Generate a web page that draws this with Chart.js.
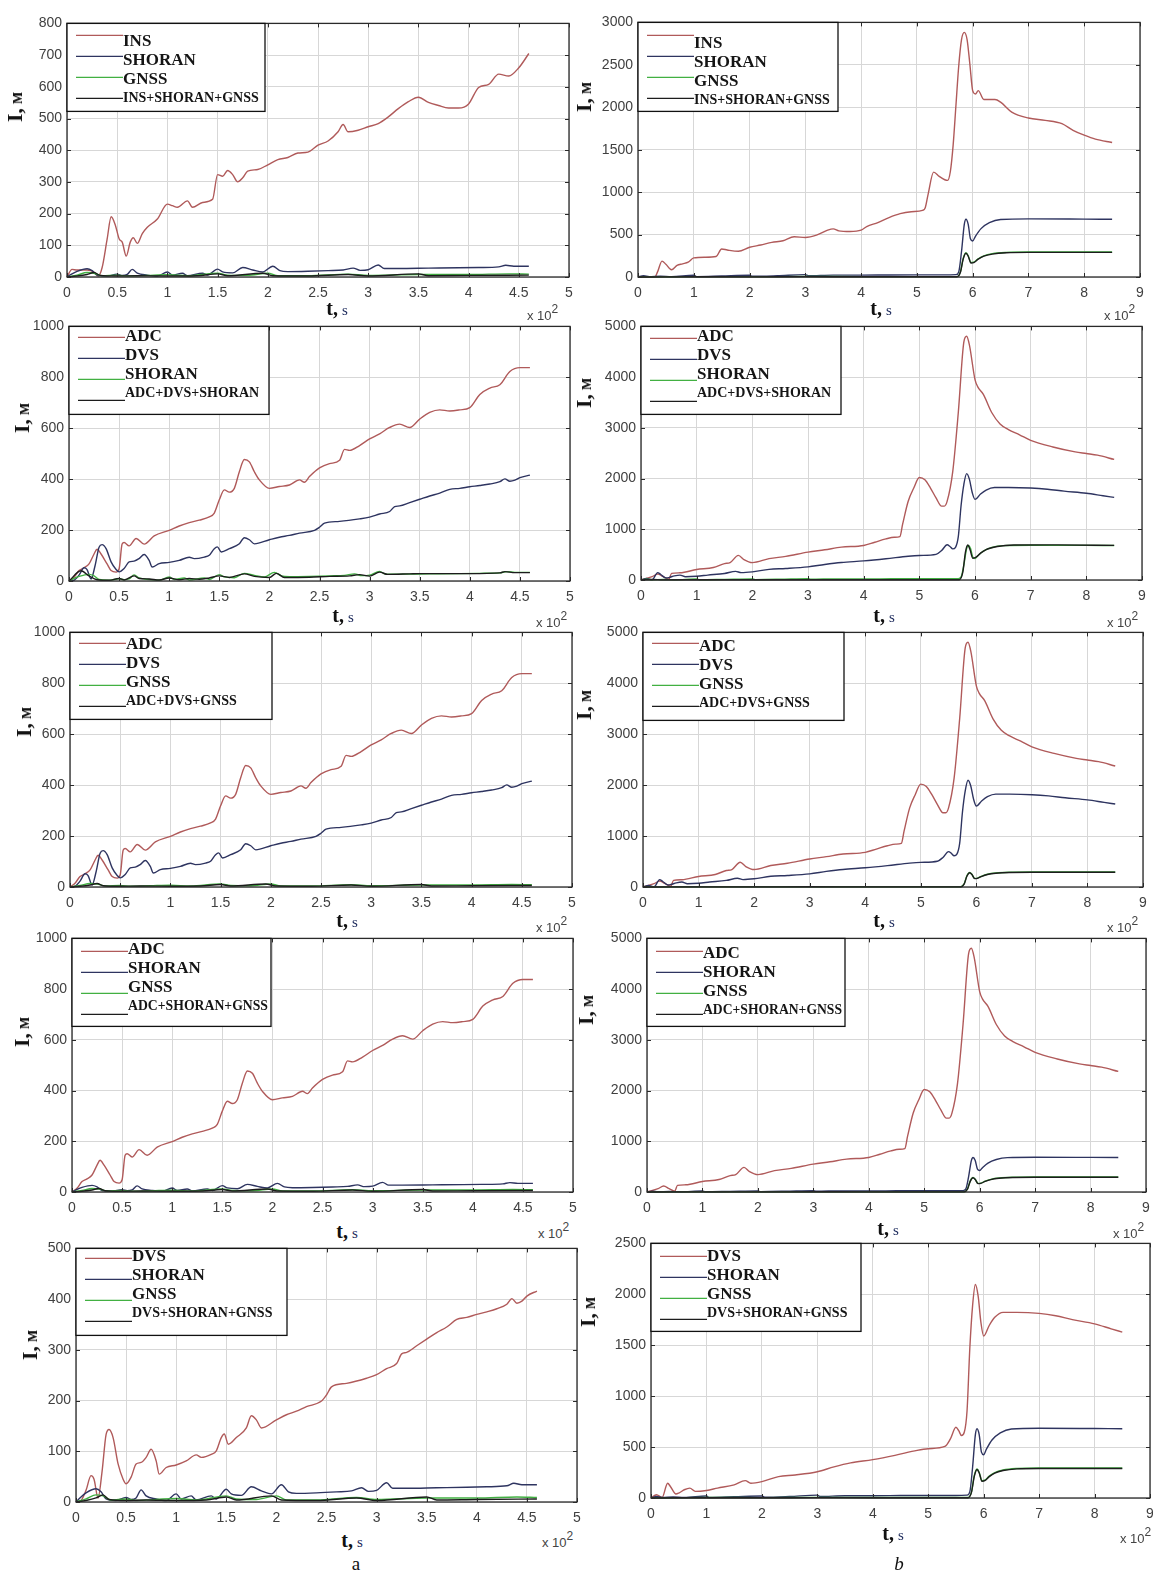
<!DOCTYPE html>
<html>
<head>
<meta charset="utf-8">
<title>Position error I(t) of single and integrated navigation systems</title>
<script src="https://cdn.jsdelivr.net/npm/chart.js@4.4.1/dist/chart.umd.min.js"></script>
<style>
  html, body { margin: 0; padding: 0; background: #fff; overflow: hidden; }
  #fig { position: relative; width: 1153px; height: 1573px; overflow: hidden; background: #fff; }
  #fig canvas { position: absolute; }
  .cap { position: absolute; white-space: nowrap; transform: translate(-50%, -50%); color: #111;
         font-family: "Liberation Serif", "Times New Roman", serif; line-height: 1; }
  .xl b { font-size: 20px; }
  .xl span { font-size: 15px; color: #1d2a5c; }
  .yl { transform: translate(-50%, -50%) rotate(-90deg); font-weight: bold; }
  .yl .big { font-size: 22px; }
  .yl .sm { font-size: 18px; }
  .mult { position: absolute; white-space: nowrap; transform: translateY(-50%);
          font-family: "Liberation Sans", Arial, sans-serif; font-size: 13px; color: #444; }
  .mult sup { font-size: 12px; vertical-align: 7px; line-height: 0; }
</style>
</head>
<body>
<div id="fig"></div>
<script>
// ---- Column a: time in units of 10^2 s, error I in metres ----
const insA = [[0,0],[0.05,24],[0.1,22],[0.2,22],[0.27,15],[0.31,3],[0.35,30],[0.4,120],[0.44,190],[0.48,165],[0.52,120],[0.55,110],[0.59,66],[0.63,110],[0.66,124],[0.7,106],[0.75,137],[0.8,157],[0.9,183],[1.0,230],[1.05,225],[1.1,220],[1.2,240],[1.25,220],[1.35,235],[1.45,245],[1.5,323],[1.55,318],[1.6,336],[1.65,323],[1.7,300],[1.75,313],[1.8,334],[1.9,339],[2.0,354],[2.1,370],[2.2,377],[2.3,391],[2.4,394],[2.5,416],[2.6,429],[2.7,458],[2.75,481],[2.8,458],[2.9,463],[3.0,474],[3.1,484],[3.2,505],[3.3,531],[3.4,553],[3.5,567],[3.6,551],[3.7,541],[3.8,533],[3.9,533],[4.0,546],[4.1,598],[4.2,608],[4.3,640],[4.4,634],[4.5,660],[4.6,705]];

const adcA = [[0,0],[0.05,15],[0.1,41],[0.15,52],[0.2,67],[0.25,106],[0.28,125],[0.32,106],[0.38,67],[0.42,41],[0.47,35],[0.5,48],[0.53,145],[0.55,151],[0.6,138],[0.67,167],[0.75,145],[0.85,177],[1.0,199],[1.1,216],[1.2,229],[1.3,239],[1.4,252],[1.45,267],[1.5,319],[1.55,358],[1.6,349],[1.65,364],[1.7,429],[1.75,477],[1.8,468],[1.85,429],[1.9,397],[2.0,364],[2.1,371],[2.2,377],[2.3,397],[2.35,388],[2.4,410],[2.5,444],[2.6,461],[2.7,474],[2.75,517],[2.8,513],[2.9,532],[3.0,558],[3.1,578],[3.2,603],[3.3,616],[3.4,603],[3.5,636],[3.6,662],[3.7,672],[3.8,668],[3.9,672],[4.0,681],[4.1,733],[4.2,758],[4.3,771],[4.4,823],[4.5,838],[4.6,838]];

const dvsA = [[0,0],[0.05,3],[0.1,23],[0.15,52],[0.18,45],[0.22,8],[0.26,60],[0.3,133],[0.33,143],[0.37,127],[0.42,75],[0.47,45],[0.5,36],[0.55,49],[0.6,75],[0.65,78],[0.7,88],[0.75,104],[0.8,81],[0.83,55],[0.9,68],[1.0,73],[1.1,81],[1.2,93],[1.25,88],[1.35,94],[1.4,101],[1.45,127],[1.48,134],[1.52,114],[1.6,127],[1.7,146],[1.75,170],[1.8,162],[1.85,146],[2.0,162],[2.1,172],[2.2,179],[2.3,188],[2.45,199],[2.5,211],[2.55,227],[2.7,234],[2.9,244],[3.0,251],[3.1,263],[3.2,273],[3.25,292],[3.3,295],[3.4,308],[3.5,321],[3.6,334],[3.7,345],[3.8,360],[3.9,364],[4.0,370],[4.1,375],[4.2,381],[4.3,390],[4.35,401],[4.4,392],[4.45,396],[4.5,406],[4.6,416]];

const shoranA = [[0,0],[0.05,10],[0.1,18],[0.2,26],[0.25,20],[0.3,6],[0.4,3],[0.5,9],[0.55,5],[0.6,8],[0.65,24],[0.7,12],[0.8,6],[0.9,3],[1.0,16],[1.05,6],[1.15,12],[1.2,4],[1.35,12],[1.4,6],[1.5,25],[1.55,16],[1.65,13],[1.75,30],[1.85,22],[1.95,16],[2.05,34],[2.12,20],[2.2,17],[2.4,18],[2.6,20],[2.75,22],[2.85,28],[2.92,21],[3.0,23],[3.1,38],[3.16,27],[3.3,27],[3.6,28],[3.9,29],[4.1,30],[4.3,32],[4.37,37],[4.45,34],[4.6,34]];

const gnssA = [[0,0],[0.1,6],[0.2,14],[0.27,12],[0.35,4],[0.5,6],[0.6,3],[0.8,5],[1.0,7],[1.2,4],[1.5,12],[1.6,6],[1.8,5],[2.0,12],[2.1,4],[2.4,4],[2.8,9],[3.0,5],[3.5,8],[4.0,8],[4.4,10],[4.6,9]];

const fusedA = [[0,0],[0.1,3],[0.2,8],[0.27,14],[0.33,5],[0.5,3],[0.7,4],[1.0,3],[1.3,4],[1.5,10],[1.6,4],[1.95,12],[2.05,4],[2.4,3],[2.8,8],[3.0,3],[3.5,10],[3.6,4],[4.0,5],[4.6,6]];

const fusedAdcDvsShoran = [[0,0],[0.12,40],[0.2,20],[0.28,5],[0.4,3],[0.5,10],[0.55,4],[0.65,20],[0.7,10],[0.8,8],[0.9,4],[1.0,12],[1.1,5],[1.2,10],[1.3,7],[1.4,12],[1.5,20],[1.6,14],[1.75,28],[1.85,18],[2.0,14],[2.07,30],[2.15,14],[2.4,15],[2.6,18],[2.8,20],[2.9,25],[3.0,19],[3.1,35],[3.18,26],[3.4,28],[3.5,29],[4.0,29],[4.3,32],[4.35,37],[4.45,33],[4.6,33]];

// ---- Column b ----
const insB = [[0,0],[0.3,0],[0.35,60],[0.43,187],[0.5,150],[0.6,85],[0.7,136],[0.8,155],[0.9,175],[1.0,225],[1.2,233],[1.4,241],[1.5,330],[1.6,318],[1.8,303],[2.0,350],[2.2,377],[2.4,408],[2.6,427],[2.8,474],[3.0,466],[3.2,493],[3.4,552],[3.5,567],[3.6,544],[3.8,536],[4.0,552],[4.1,594],[4.3,641],[4.5,700],[4.7,746],[4.9,769],[5.1,785],[5.15,816],[5.2,971],[5.3,1236],[5.4,1185],[5.5,1146],[5.55,1138],[5.6,1243],[5.65,1554],[5.7,2020],[5.75,2487],[5.8,2798],[5.85,2883],[5.9,2798],[5.95,2506],[6.0,2196],[6.05,2157],[6.1,2196],[6.2,2091],[6.4,2091],[6.5,2060],[6.7,1943],[7.0,1873],[7.3,1846],[7.6,1807],[7.8,1729],[8.0,1671],[8.2,1624],[8.5,1585]];

const adcB = [[0,0],[0.2,65],[0.3,117],[0.4,65],[0.5,15],[0.55,130],[0.7,142],[1.0,207],[1.3,246],[1.5,324],[1.6,343],[1.75,486],[1.85,402],[2.0,343],[2.3,421],[2.6,466],[3.0,550],[3.3,596],[3.6,648],[4.0,680],[4.2,745],[4.4,810],[4.55,842],[4.65,855],[4.7,1101],[4.8,1554],[4.9,1813],[5.0,2021],[5.1,1975],[5.2,1813],[5.3,1619],[5.4,1457],[5.45,1457],[5.5,1554],[5.6,2137],[5.7,3303],[5.8,4695],[5.85,4806],[5.9,4631],[6.0,3951],[6.05,3808],[6.15,3659],[6.3,3303],[6.45,3077],[6.6,2966],[6.8,2863],[7.0,2753],[7.4,2623],[7.8,2526],[8.0,2494],[8.2,2461],[8.5,2377]];

const dvsB = [[0,0],[0.1,32],[0.2,5],[0.3,145],[0.35,113],[0.45,39],[0.5,48],[0.6,81],[0.7,97],[0.8,65],[1.0,74],[1.2,97],[1.5,129],[1.7,171],[1.8,145],[2.0,161],[2.3,210],[2.6,226],[3.0,258],[3.3,306],[3.6,345],[4.0,377],[4.4,419],[4.8,468],[5.0,484],[5.3,506],[5.4,581],[5.5,694],[5.55,661],[5.6,613],[5.65,645],[5.7,855],[5.75,1468],[5.8,1887],[5.85,2097],[5.9,1984],[5.95,1726],[6.0,1590],[6.1,1694],[6.2,1774],[6.35,1823],[6.6,1823],[7.0,1813],[7.3,1790],[7.6,1752],[8.0,1710],[8.3,1661],[8.5,1629]];

const shoranB = [[0,0],[0.1,15],[0.2,5],[0.4,10],[0.6,5],[1.0,20],[1.05,5],[1.5,12],[2.0,20],[2.05,8],[2.5,15],[3.0,28],[3.05,15],[3.5,22],[4.0,22],[4.5,24],[5.0,25],[5.5,25],[5.7,28],[5.75,60],[5.8,300],[5.85,620],[5.88,680],[5.92,620],[5.96,450],[6.0,425],[6.05,480],[6.15,570],[6.3,640],[6.5,678],[7.0,685],[8.0,682],[8.5,680]];

const gnssB = [[0,0],[0.5,3],[1,5],[2,4],[3,6],[4,5],[5,5],[5.72,5],[5.78,60],[5.83,220],[5.88,285],[5.92,250],[5.97,170],[6.02,175],[6.1,215],[6.2,250],[6.35,275],[6.6,290],[7,295],[8.5,295]];

const fusedB = [[0,0],[0.5,2],[1,3],[2,2],[3,4],[4,3],[5,3],[5.72,3],[5.78,55],[5.83,210],[5.88,280],[5.92,245],[5.97,165],[6.02,170],[6.1,210],[6.2,245],[6.35,270],[6.6,286],[7,290],[8.5,290]];

const fusedAdcDvsShoranB = [[0,0],[0.2,10],[0.4,3],[1,5],[2,4],[3,6],[4,5],[5,5],[5.72,6],[5.78,150],[5.83,560],[5.87,690],[5.91,600],[5.96,430],[6.02,450],[6.1,530],[6.2,600],[6.4,660],[6.7,690],[7.5,692],[8.5,682]];

// ---- Legend entries ----
const labelsP1 = ['INS', 'SHORAN', 'GNSS', 'INS+SHORAN+GNSS'];
const labelsP3 = ['ADC', 'DVS', 'SHORAN', 'ADC+DVS+SHORAN'];
const labelsP5 = ['ADC', 'DVS', 'GNSS', 'ADC+DVS+GNSS'];
const labelsP7 = ['ADC', 'SHORAN', 'GNSS', 'ADC+SHORAN+GNSS'];
const labelsP9 = ['DVS', 'SHORAN', 'GNSS', 'DVS+SHORAN+GNSS'];

const seriesColors = ['#b05a5a', '#2e3460', '#42b042', '#1c1c1c'];

// ---- Panel layout: plot rectangle [left, top, right, bottom] and axis ranges ----
const panels = [
  { rect: [67, 20, 569, 277],    xMax: 5, xStep: 0.5, yMax: 800,  yStep: 100,  labels: labelsP1, series: [insA, shoranA, gnssA, fusedA],
    leg: [198, 88, 18, 12], ylab: [15, 107], xlab: [337, 308], mult: [527, 315] },
  { rect: [638, 19, 1140, 277],  xMax: 9, xStep: 1,   yMax: 3000, yStep: 500,  labels: labelsP1, series: [insB, shoranB, gnssB, fusedB],
    leg: [200, 89, 21, 13], ylab: [584, 97], xlab: [881, 308], mult: [1104, 315] },
  { rect: [69, 323, 570, 581],   xMax: 5, xStep: 0.5, yMax: 1000, yStep: 200,  labels: labelsP3, series: [adcA, dvsA, shoranA, fusedAdcDvsShoran],
    leg: [200, 88, 10, 11], ylab: [22, 418], xlab: [343, 615], mult: [536, 622] },
  { rect: [641, 323, 1142, 580], xMax: 9, xStep: 1,   yMax: 5000, yStep: 1000, labels: labelsP3, series: [adcB, dvsB, shoranB, fusedAdcDvsShoranB],
    leg: [200, 88, 10, 12], ylab: [584, 393], xlab: [884, 615], mult: [1107, 622] },
  { rect: [70, 629, 572, 887],   xMax: 5, xStep: 0.5, yMax: 1000, yStep: 200,  labels: labelsP5, series: [adcA, dvsA, gnssA, fusedA],
    leg: [202, 87, 12, 11], ylab: [24, 722], xlab: [347, 920], mult: [536, 927] },
  { rect: [643, 629, 1143, 887], xMax: 9, xStep: 1,   yMax: 5000, yStep: 1000, labels: labelsP5, series: [adcB, dvsB, gnssB, fusedB],
    leg: [201, 88, 14, 11], ylab: [584, 705], xlab: [884, 920], mult: [1107, 927] },
  { rect: [72, 935, 573, 1192],  xMax: 5, xStep: 0.5, yMax: 1000, yStep: 200,  labels: labelsP7, series: [adcA, shoranA, gnssA, fusedA],
    leg: [199, 88, 11, 13], ylab: [22, 1032], xlab: [347, 1231], mult: [538, 1233] },
  { rect: [647, 935, 1146, 1192], xMax: 9, xStep: 1,  yMax: 5000, yStep: 1000, labels: labelsP7, series: [adcB, shoranB, gnssB, fusedB],
    leg: [198, 88, 15, 13], ylab: [586, 1010], xlab: [888, 1228], mult: [1113, 1233] },
  { rect: [76, 1245, 577, 1502], xMax: 5, xStep: 0.5, yMax: 500,  yStep: 100,  labels: labelsP9, series: [dvsA, shoranA, gnssA, fusedA],
    leg: [211, 87, 8, 10], ylab: [30, 1345], xlab: [352, 1540], mult: [542, 1542] },
  { rect: [651, 1240, 1150, 1498], xMax: 9, xStep: 1, yMax: 2500, yStep: 500,  labels: labelsP9, series: [dvsB, shoranB, gnssB, fusedB],
    leg: [210, 88, 13, 13], ylab: [588, 1312], xlab: [893, 1533], mult: [1120, 1538] }
];

const PAD_L = 60, PAD_T = 10, PAD_R = 14, PAD_B = 26;
const tickFont = { family: '"Liberation Sans", Arial, sans-serif', size: 14 };
const tickColor = '#404040';
const gridColor = '#d7d7d7';

// Box around the axes, MATLAB-style inward ticks, and the boxed legend in the top-left corner
const framePlugin = {
  id: 'frameAndLegend',
  afterDraw(chart, args, opts) {
    const { ctx, chartArea: a, scales: { x, y } } = chart;
    ctx.save();
    ctx.strokeStyle = '#2a2a2a';
    ctx.lineWidth = 1;
    ctx.beginPath();
    x.ticks.forEach(t => {
      const px = Math.round(x.getPixelForValue(t.value)) + 0.5;
      ctx.moveTo(px, a.bottom); ctx.lineTo(px, a.bottom - 4);
      ctx.moveTo(px, a.top); ctx.lineTo(px, a.top + 4);
    });
    y.ticks.forEach(t => {
      const py = Math.round(y.getPixelForValue(t.value)) + 0.5;
      ctx.moveTo(a.left, py); ctx.lineTo(a.left + 4, py);
      ctx.moveTo(a.right, py); ctx.lineTo(a.right - 4, py);
    });
    ctx.stroke();
    ctx.lineWidth = 1.3;
    ctx.strokeRect(a.left, a.top, a.right - a.left, a.bottom - a.top);

    // legend
    const [w, h, textTop, lineTop] = opts.box;
    const bx = a.left, by = a.top;
    ctx.fillStyle = '#fff';
    ctx.fillRect(bx, by, w, h);
    ctx.strokeStyle = '#111';
    ctx.lineWidth = 1.3;
    ctx.strokeRect(bx, by, w, h);
    chart.data.datasets.forEach((ds, k) => {
      const ly = by + lineTop + 21 * k;
      ctx.strokeStyle = ds.borderColor;
      ctx.lineWidth = 1.4;
      ctx.beginPath();
      ctx.moveTo(bx + 9, ly); ctx.lineTo(bx + 56, ly);
      ctx.stroke();
      ctx.fillStyle = '#151515';
      ctx.font = (k < 3 ? 'bold 17px' : 'bold 14px') + ' "Liberation Serif", "Times New Roman", serif';
      ctx.textBaseline = 'middle';
      ctx.textAlign = 'left';
      ctx.fillText(ds.label, bx + 56, by + textTop + 19 * k, w - 59);
    });
    ctx.restore();
  }
};

const fig = document.getElementById('fig');

panels.forEach(p => {
  const [l, t, r, b] = p.rect;
  const canvas = document.createElement('canvas');
  canvas.width = (r - l) + PAD_L + PAD_R;
  canvas.height = (b - t) + PAD_T + PAD_B;
  canvas.style.left = (l - PAD_L) + 'px';
  canvas.style.top = (t - PAD_T) + 'px';
  fig.appendChild(canvas);

  new Chart(canvas, {
    type: 'line',
    data: {
      datasets: p.series.map((s, k) => ({
        label: p.labels[k],
        data: s.map(([tx, v]) => ({ x: tx, y: v })),
        borderColor: seriesColors[k],
        borderWidth: 1.4,
        pointRadius: 0,
        fill: false,
        cubicInterpolationMode: 'monotone',
        order: 3 - k,
        clip: 3
      }))
    },
    options: {
      responsive: false,
      animation: false,
      devicePixelRatio: 1,
      events: [],
      layout: { padding: { left: 0, top: PAD_T, right: PAD_R, bottom: 0 } },
      plugins: {
        legend: { display: false },
        tooltip: { enabled: false },
        frameAndLegend: { box: p.leg }
      },
      scales: {
        x: {
          type: 'linear', min: 0, max: p.xMax,
          ticks: { stepSize: p.xStep, padding: 8, maxRotation: 0, autoSkip: false,
                   font: tickFont, color: tickColor, callback: v => String(v) },
          grid: { color: gridColor, lineWidth: 1, drawTicks: false },
          border: { display: false },
          afterFit: s => { s.height = PAD_B; }
        },
        y: {
          type: 'linear', min: 0, max: p.yMax,
          ticks: { stepSize: p.yStep, padding: 5, font: tickFont, color: tickColor,
                   callback: v => String(v) },
          grid: { color: gridColor, lineWidth: 1, drawTicks: false },
          border: { display: false },
          afterFit: s => { s.width = PAD_L; }
        }
      }
    },
    plugins: [framePlugin]
  });

  // axis captions
  const yl = document.createElement('div');
  yl.className = 'cap yl';
  yl.style.left = p.ylab[0] + 'px'; yl.style.top = p.ylab[1] + 'px';
  yl.innerHTML = '<span class="big">I,</span> <span class="sm">м</span>';
  fig.appendChild(yl);

  const xl = document.createElement('div');
  xl.className = 'cap xl';
  xl.style.left = p.xlab[0] + 'px'; xl.style.top = p.xlab[1] + 'px';
  xl.innerHTML = '<b>t,</b> <span>s</span>';
  fig.appendChild(xl);

  const m = document.createElement('div');
  m.className = 'mult';
  m.style.left = p.mult[0] + 'px'; m.style.top = p.mult[1] + 'px';
  m.innerHTML = 'x 10<sup>2</sup>';
  fig.appendChild(m);
});

// column captions
[['a', 356, 1563, 'normal'], ['b', 899, 1563, 'italic']].forEach(([txt, x, y, st]) => {
  const d = document.createElement('div');
  d.className = 'cap';
  d.style.left = x + 'px'; d.style.top = y + 'px';
  d.style.fontSize = '19px'; d.style.fontStyle = st;
  d.textContent = txt;
  fig.appendChild(d);
});
</script>
</body>
</html>
